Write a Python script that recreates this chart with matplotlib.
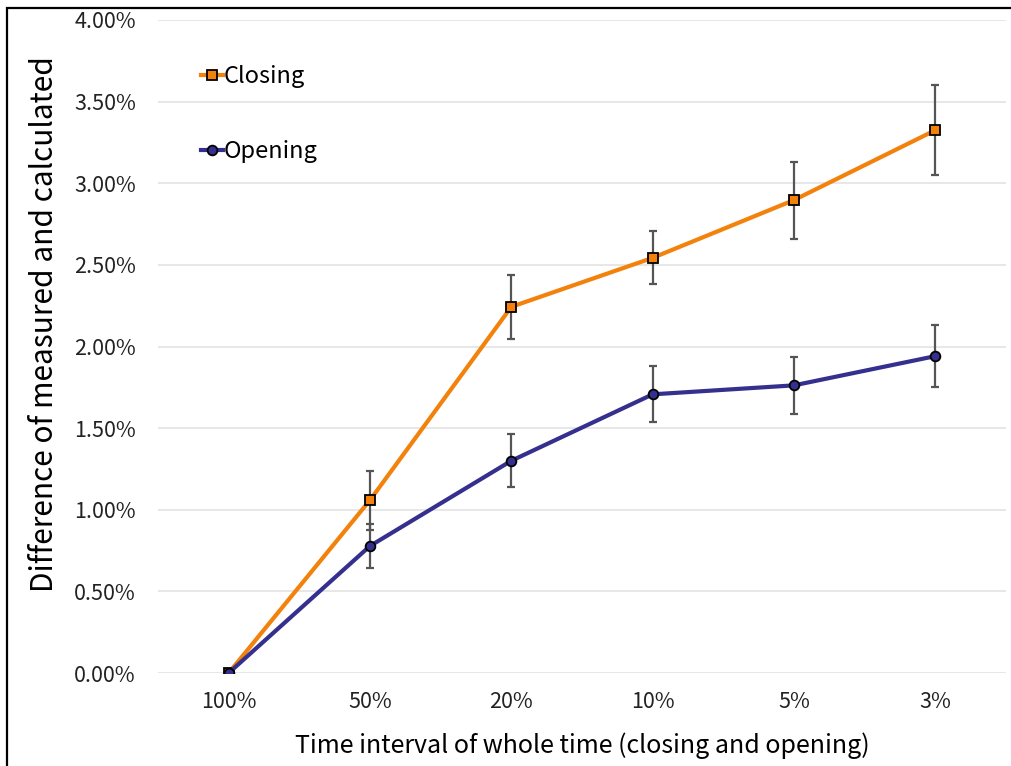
import matplotlib
matplotlib.use("Agg")
import matplotlib.pyplot as plt
from matplotlib.patches import Rectangle
from matplotlib.ticker import FuncFormatter

plt.rcParams['font.family'] = ['Noto Sans CJK KR', 'DejaVu Sans']

categories = ["100%", "50%", "20%", "10%", "5%", "3%"]
closing = [0.000, 1.059, 2.243, 2.543, 2.897, 3.325]
closing_err = [0.000, 0.180, 0.197, 0.162, 0.236, 0.274]
opening = [0.000, 0.778, 1.300, 1.707, 1.762, 1.941]
opening_err = [0.000, 0.137, 0.163, 0.172, 0.176, 0.188]

orange = '#F2820C'
navy = '#35308E'

fig = plt.figure(figsize=(10.11, 7.66), dpi=100)
ax = fig.add_axes([158/1011, 1-673/766, (1006-158)/1011, (673-20)/766])

x = list(range(len(categories)))
ax.errorbar(x, closing, yerr=closing_err, fmt='none', ecolor='#555555',
            elinewidth=1.6, capsize=3, capthick=1.6, zorder=2)
ax.errorbar(x, opening, yerr=opening_err, fmt='none', ecolor='#555555',
            elinewidth=1.6, capsize=3, capthick=1.6, zorder=2)
ax.plot(x, closing, color=orange, lw=3, marker='s', ms=7,
        mfc=orange, mec='black', mew=1.3, label='Closing', zorder=3)
ax.plot(x, opening, color=navy, lw=3, marker='o', ms=7,
        mfc=navy, mec='black', mew=1.3, label='Opening', zorder=4)

ax.set_xlim(-0.5, len(categories) - 0.5)
ax.set_ylim(0, 4.0)
ax.set_yticks([0, 0.5, 1.0, 1.5, 2.0, 2.5, 3.0, 3.5, 4.0])
ax.yaxis.set_major_formatter(FuncFormatter(lambda v, p: f"{v:.2f}%"))
ax.set_xticks(x)
ax.set_xticklabels(categories)
ax.tick_params(axis='both', length=0, labelsize=15.5, colors='#222222')
ax.tick_params(axis='x', pad=13)
ax.tick_params(axis='y', pad=16)
for s in ax.spines.values():
    s.set_visible(False)
ax.grid(axis='y', color='#e3e3e3', lw=1.2)
ax.set_axisbelow(True)

ax.set_ylabel('Difference of measured and calculated', fontsize=21.5)
ax.yaxis.set_label_coords(-0.116, 0.535)
ax.set_xlabel('Time interval of whole time (closing and opening)', fontsize=18, labelpad=14)

leg = ax.legend(loc='upper left', bbox_to_anchor=(0.04, 0.945), frameon=False,
                fontsize=17, handlelength=0.9, handletextpad=0.05,
                labelspacing=2.2, borderaxespad=0)

fig.patches.append(Rectangle((7/1011, -0.2), 1.2, 1 - 8/766 + 0.2,
                             transform=fig.transFigure, fill=False,
                             edgecolor='black', lw=1.6))

fig.savefig('out.png', dpi=100)
